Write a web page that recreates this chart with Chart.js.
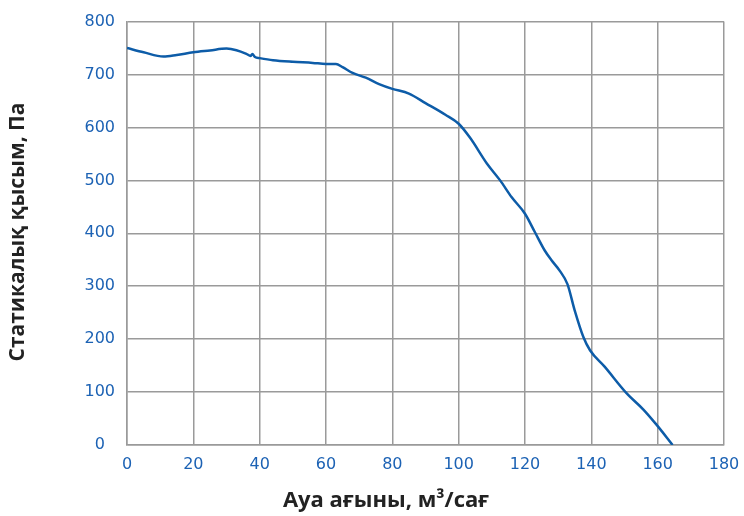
<!DOCTYPE html>
<html>
<head>
<meta charset="utf-8">
<script src="https://cdn.jsdelivr.net/npm/chart.js@4.4.1/dist/chart.umd.min.js"></script>
<style>
  html, body { margin: 0; padding: 0; background: #fff; }
  #wrap { width: 744px; height: 516px; }
</style>
</head>
<body>
<div id="wrap"><canvas id="chart" width="744" height="516"></canvas></div>
<script>
const flowValues = [0, 5, 11, 15, 20, 25, 30, 33, 36, 37.3, 37.8, 38.6, 40, 44, 50, 56, 60, 63, 65, 68, 72, 76, 80, 85, 90, 96, 100, 103.5, 108.5, 112.5, 116, 120, 123, 126, 128, 130.5, 132.8, 135, 137.6, 139.6, 144, 150.6, 155.7, 159.7, 164.5];
const pressureValues = [750, 742, 734, 737, 742, 745.5, 749, 746, 739, 735, 739, 733, 731, 727, 724, 722, 720, 720, 714, 703, 694, 682, 673, 664, 646, 624, 607, 580, 532, 500, 468, 437, 402, 367, 349, 329, 304, 254, 204, 179, 148, 98, 67, 38, 0];
const xTitle = "Ауа ағыны, м³/сағ";
const yTitle = "Статикалық қысым, Па";

const points = flowValues.map((x, i) => ({ x: x, y: pressureValues[i] }));

const tickColor = "#1c62b4";
const gridColor = "#9a9a9a";

// axis titles drawn by hand so they sit where the original has them
const axisTitles = {
    id: "axisTitles",
    afterDraw(chart) {
        const ctx = chart.ctx;
        ctx.save();
        ctx.fillStyle = "#222";
        ctx.font = "bold 22px 'Open Sans'";
        ctx.textAlign = "center";
        ctx.textBaseline = "middle";
        ctx.fillText(xTitle, 386, 501);
        ctx.font = "bold 21px 'Open Sans'";
        ctx.translate(18, 232);
        ctx.rotate(-Math.PI / 2);
        ctx.fillText(yTitle, 0, 0);
        ctx.restore();
    }
};

new Chart(document.getElementById("chart").getContext("2d"), {
    type: "scatter",
    data: {
        datasets: [{
            data: points,
            showLine: true,
            borderColor: "#0d5ca8",
            borderWidth: 2.5,
            pointRadius: 0,
            cubicInterpolationMode: "monotone",
            fill: false
        }]
    },
    options: {
        responsive: false,
        animation: false,
        layout: { padding: { left: 0, right: 20, top: 10, bottom: 0 } },
        plugins: { legend: { display: false }, tooltip: { enabled: false } },
        scales: {
            x: {
                type: "linear",
                min: 0,
                max: 180,
                ticks: {
                    stepSize: 20,
                    color: tickColor,
                    padding: 10,
                    font: { family: "DejaVu Sans", size: 16 }
                },
                grid: { color: gridColor, lineWidth: 1.5, drawTicks: false },
                border: { color: gridColor, width: 1.5 },
                afterFit(scale) {
                    scale.height = 71;
                    scale.paddingLeft = 0;
                    scale.paddingRight = 0;
                }
            },
            y: {
                min: 0,
                max: 800,
                ticks: {
                    stepSize: 100,
                    color: tickColor,
                    padding: 12,
                    crossAlign: "center",
                    font: { family: "DejaVu Sans", size: 16 }
                },
                grid: { color: gridColor, lineWidth: 1.5, drawTicks: false },
                border: { color: gridColor, width: 1.5 },
                afterFit(scale) { scale.width = 127; }
            }
        }
    },
    plugins: [axisTitles]
});
</script>
</body>
</html>
